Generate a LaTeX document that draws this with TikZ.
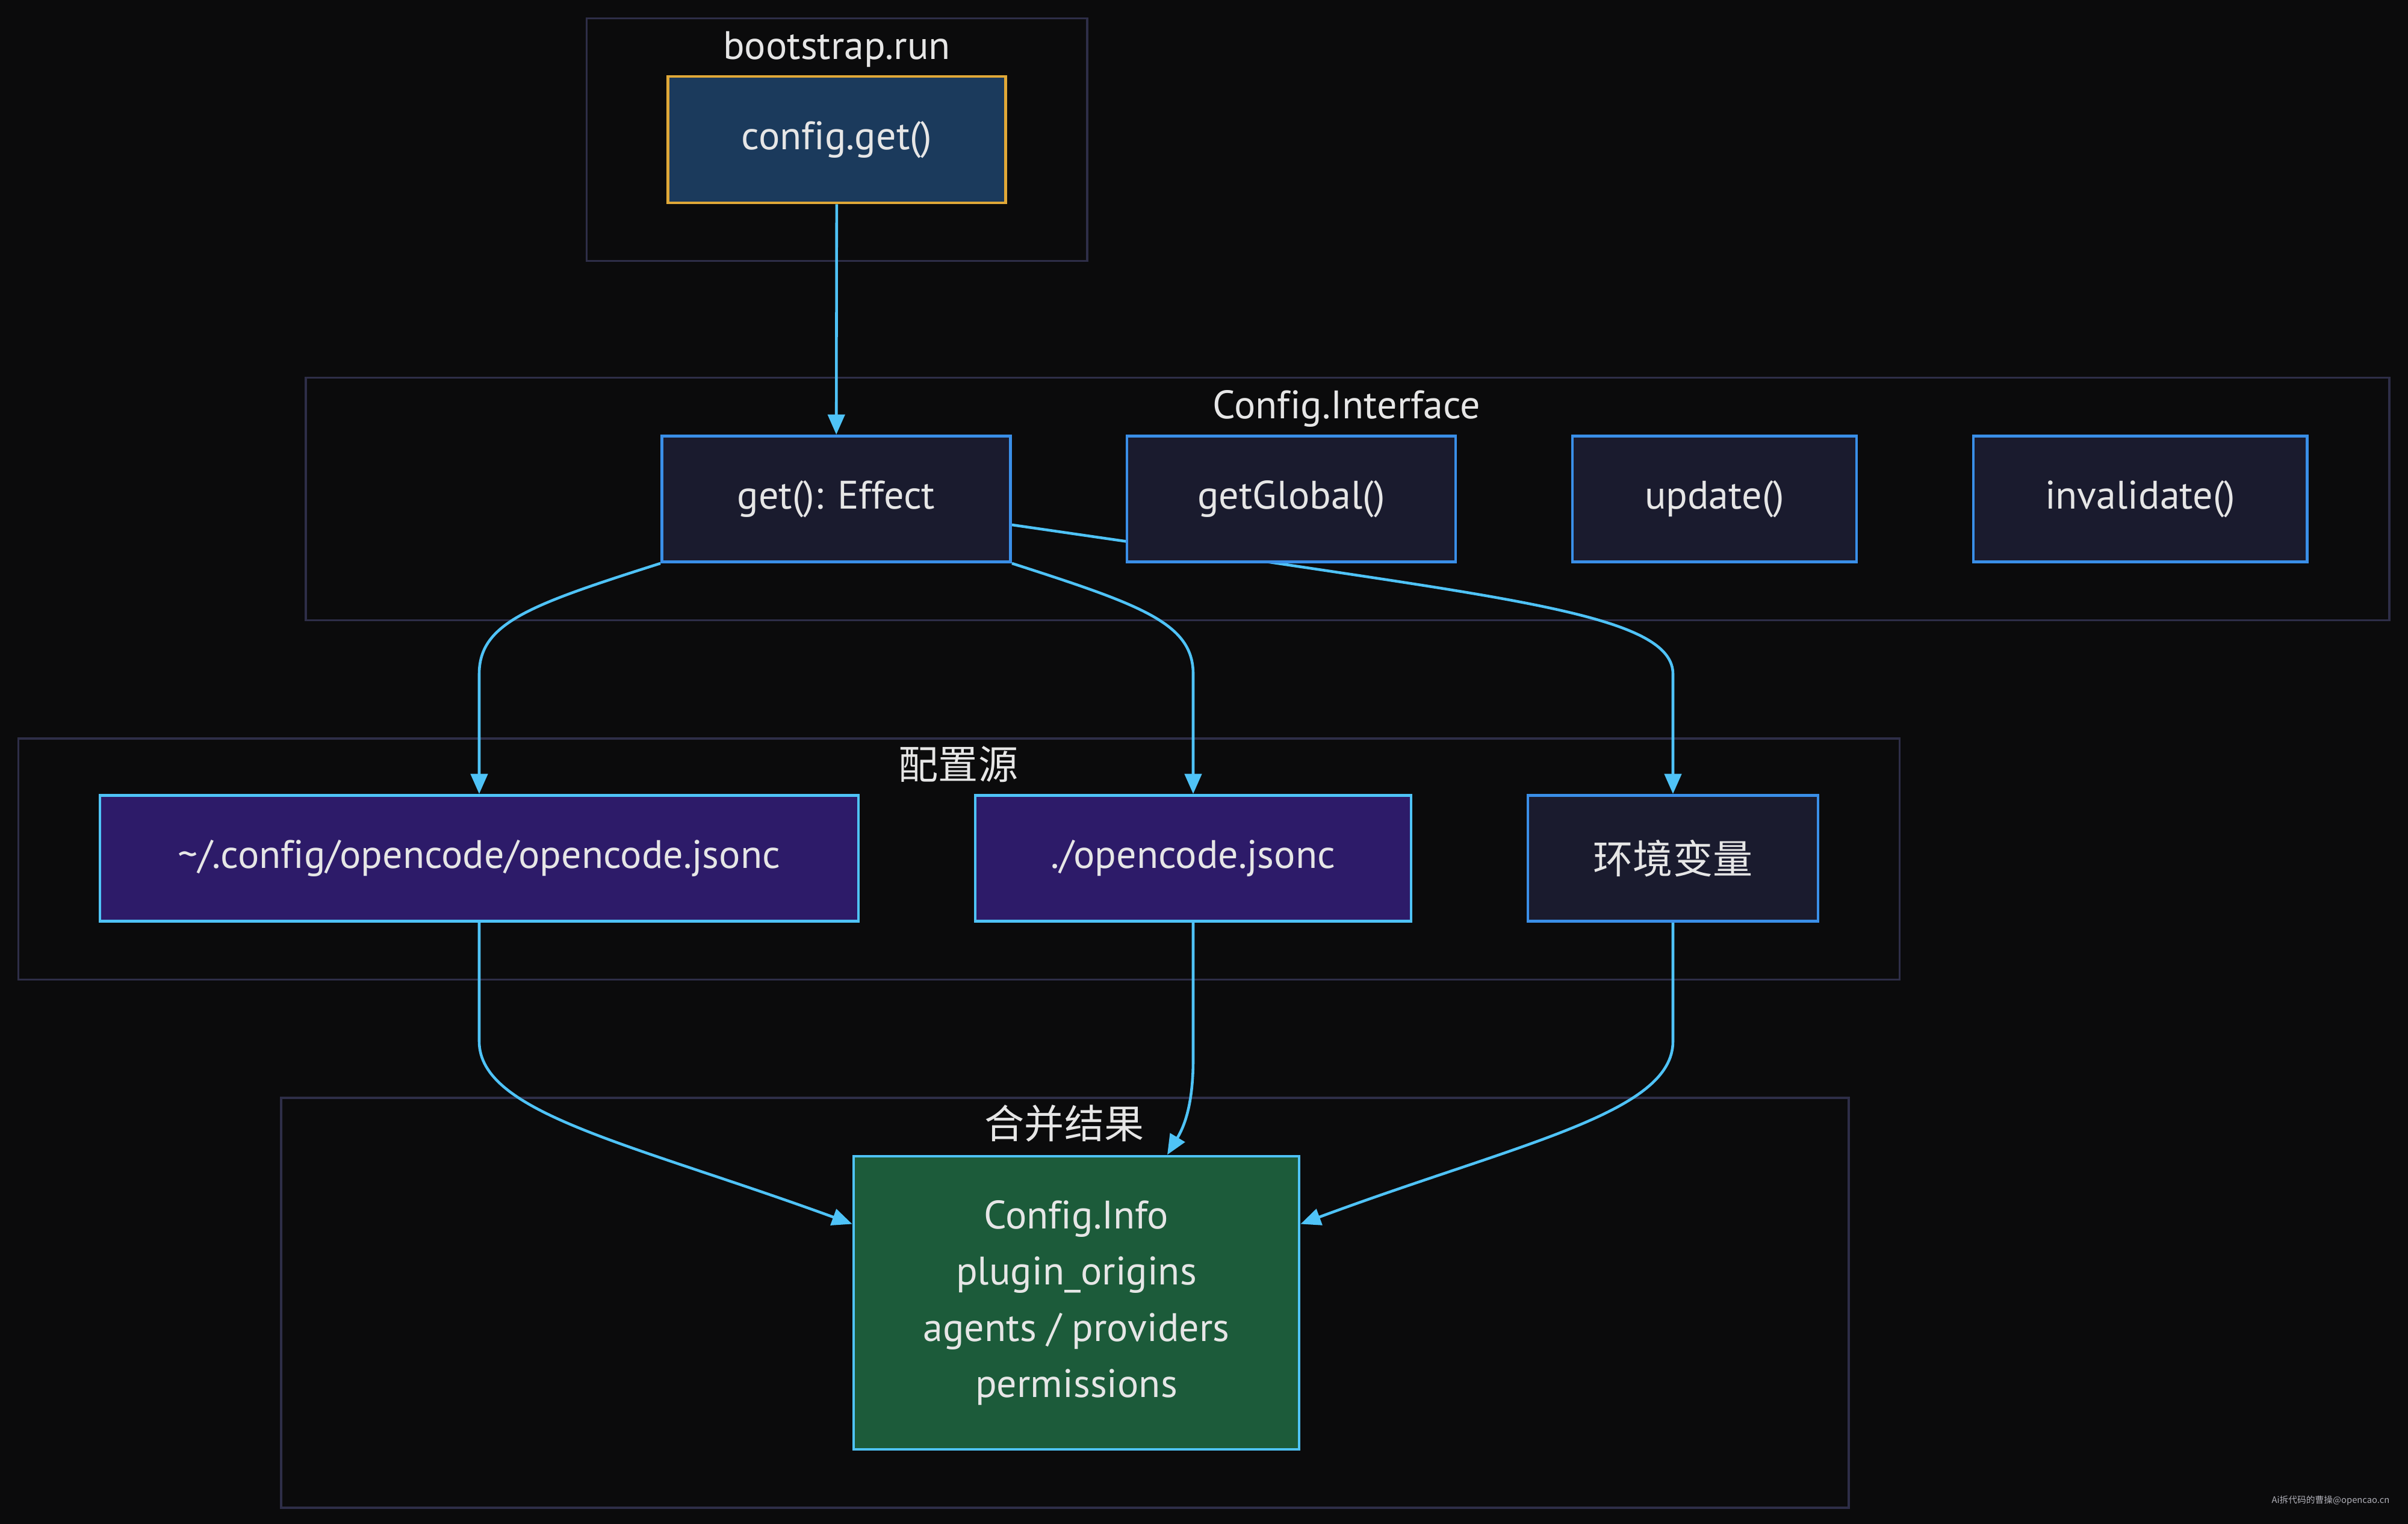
\documentclass[tikz,border=0pt]{standalone}
\usepackage{fontspec}
\setmainfont{PT Sans}[Ligatures={NoCommon}]
\newfontfamily\cjk{Noto Sans CJK SC}
\usetikzlibrary{arrows.meta,calc}
\definecolor{bgc}{HTML}{0B0B0C}
\definecolor{clb}{HTML}{2E2E48}
\definecolor{darkfill}{HTML}{1A1B2E}
\definecolor{blueb}{HTML}{3A8FE8}
\definecolor{purp}{HTML}{2D1B69}
\definecolor{cyanb}{HTML}{4FC3F7}
\definecolor{greenf}{HTML}{1C5B3A}
\definecolor{navyf}{HTML}{1B3A5C}
\definecolor{orangeb}{HTML}{E0A838}
\definecolor{txt}{HTML}{E6E6E6}
\pgfdeclarelayer{bg}
\pgfdeclarelayer{edges}
\pgfsetlayers{bg,edges,main}
\tikzset{
  base/.style={rectangle, line width=1.4pt, text=txt, font=\fontsize{18.8}{26.6}\selectfont, align=center, minimum height=2.09cm, inner sep=0pt},
  darkbox/.style={base, fill=darkfill, draw=blueb},
  purpbox/.style={base, fill=purp, draw=cyanb},
  greenbox/.style={base, fill=greenf, draw=cyanb},
  navybox/.style={base, fill=navyf, draw=orangeb},
  cluster/.style={draw=clb, line width=0.9pt, fill=bgc},
  ctitle/.style={text=txt, font=\fontsize{18.8}{22}\selectfont, inner sep=0pt},
  conn/.style={draw=cyanb, line width=1.3pt, -{Triangle[length=9.5pt,width=8pt]}},
}
\begin{document}
\begin{tikzpicture}[x=1cm,y=-1cm]
\begin{pgfonlayer}{bg}
\fill[bgc] (0,0) rectangle (40,25.32);
\draw[cluster] (9.745,0.306) rectangle (18.06,4.337);
\draw[cluster] (5.08,6.275) rectangle (39.69,10.306);
\draw[cluster] (0.306,12.27) rectangle (31.556,16.276);
\draw[cluster] (4.67,18.24) rectangle (30.71,25.05);
\end{pgfonlayer}
\useasboundingbox (0,0) rectangle (40,25.32);

\node[ctitle] (t1) at (13.90,0.82) {bootstrap.run};
\node[ctitle] (t2) at (22.37,6.79) {Config.Interface};
\node[ctitle] (t3) at (15.92,12.70) {\cjk 配置源};
\node[ctitle] (t4) at (17.68,18.67) {\cjk 合并结果};

% nodes
\node[navybox, minimum width=5.61cm, minimum height=2.10cm] (cget) at (13.90,2.32) {\raisebox{-0.06cm}{config.get()}};
\node[darkbox, minimum width=5.79cm] (get) at (13.89,8.29) {\raisebox{-0.06cm}{get(): Effect}};
\node[darkbox, minimum width=5.46cm] (glob) at (21.45,8.29) {\raisebox{-0.06cm}{getGlobal()}};
\node[darkbox, minimum width=4.72cm] (upd) at (28.48,8.29) {\raisebox{-0.06cm}{update()}};
\node[darkbox, minimum width=5.54cm] (inv) at (35.55,8.29) {\raisebox{-0.06cm}{invalidate()}};
\node[purpbox, minimum width=12.60cm] (src1) at (7.96,14.26) {\raisebox{-0.06cm}{\textasciitilde/.config/opencode/opencode.jsonc}};
\node[purpbox, minimum width=7.24cm] (src2) at (19.82,14.26) {\raisebox{-0.06cm}{./opencode.jsonc}};
\node[darkbox, minimum width=4.82cm] (env) at (27.79,14.26) {\cjk 环境变量};
\node[greenbox, minimum width=7.40cm, minimum height=4.87cm] (info) at (17.88,21.645)
  {Config.Info\\plugin\_origins\\agents / providers\\permissions};

\coordinate (getR) at ($(get.east)+(0,0.43)$);
\coordinate (infoL) at ($(info.north west)+(0,1.15)$);
\coordinate (infoR) at ($(info.north east)+(0,1.15)$);
\coordinate (infoT) at ($(info.north)+(1.51,0)$);

% edges
\begin{pgfonlayer}{edges}
\draw[conn] (cget) -- (get);
\draw[conn] (get.south west) .. controls (8.8,10.05) and (7.96,10.35) .. (7.96,11.2) -- (src1.north);
\draw[conn] (get.south east) .. controls (18.95,10.05) and (19.82,10.35) .. (19.82,11.2) -- (src2.north);
\draw[conn] (getR) -- (21.07,9.337) .. controls (25.5,10.0) and (27.79,10.3) .. (27.79,11.2) -- (env.north);
\draw[conn] (src1.south) -- (7.96,17.3) .. controls (7.96,18.5) and (10.5,19.0) .. (infoL);
\draw[conn] (src2.south) -- (19.82,17.6) .. controls (19.82,18.4) and (19.65,18.75) .. (infoT);
\draw[conn] (env.south) -- (27.79,17.3) .. controls (27.79,18.5) and (25.2,19.0) .. (infoR);
\end{pgfonlayer}

% watermark
\node[text={rgb,255:red,176;green,176;blue,184}, font=\cjk\fontsize{4.2}{5}\selectfont, anchor=east, inner sep=0pt] (wm) at (39.70,24.93) {Ai拆代码的曹操@opencao.cn};
\end{tikzpicture}
\end{document}
